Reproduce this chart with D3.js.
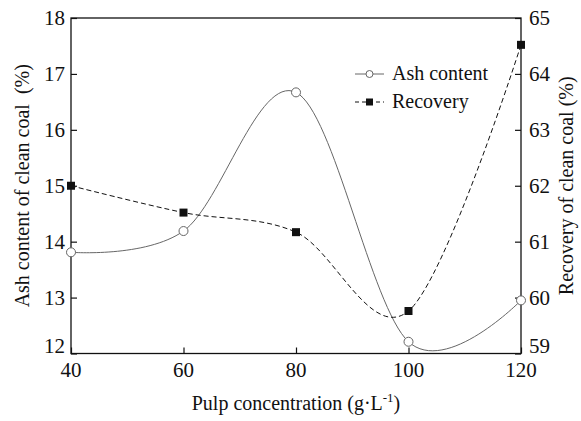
<!DOCTYPE html>
<html><head><meta charset="utf-8">
<script src="https://cdn.jsdelivr.net/npm/d3@7"></script>
<style>body{margin:0;background:#fff} svg{display:block}</style>
</head><body><svg id="c" width="581" height="421"></svg>
<script>
const concentration = [40, 60, 80, 100, 120];
const ashContent = [13.81, 14.19, 16.67, 12.21, 12.95];
const recovery = [62.0, 61.52, 61.17, 59.76, 64.52];
const xTicks = [40, 60, 80, 100, 120];
const yLeftTicks = [12, 13, 14, 15, 16, 17, 18];
const yRightTicks = [59, 60, 61, 62, 63, 64, 65];

const FONT = "Times New Roman";
const svg = d3.select("#c");
const L = 71, R = 521, T = 18, B = 353.5;
const x = d3.scaleLinear().domain([40, 120]).range([L, R]);
const yL = d3.scaleLinear().domain([12, 18]).range([B, T]);
const yR = d3.scaleLinear().domain([59, 65]).range([B, T]);
const ink = "#111";

svg.append("rect").attr("x", L).attr("y", T).attr("width", R - L).attr("height", B - T)
  .attr("fill", "none").attr("stroke", ink).attr("stroke-width", 1.3);

const fs = 21;
const gx = svg.append("g").attr("transform", `translate(0,${B})`)
  .call(d3.axisTop(x).tickValues(xTicks).tickSize(6).tickFormat(""));
gx.select(".domain").remove();
gx.selectAll("line").attr("stroke", ink).attr("stroke-width", 1.2);

const gl = svg.append("g").attr("transform", `translate(${L},0)`)
  .call(d3.axisRight(yL).tickValues(yLeftTicks).tickSize(6).tickFormat(""));
gl.select(".domain").remove();
gl.selectAll("line").attr("stroke", ink).attr("stroke-width", 1.2);

const gr = svg.append("g").attr("transform", `translate(${R},0)`)
  .call(d3.axisLeft(yR).tickValues(yRightTicks).tickSize(6).tickFormat(""));
gr.select(".domain").remove();
gr.selectAll("line").attr("stroke", ink).attr("stroke-width", 1.2);

const labels = svg.append("g").attr("fill", ink);
labels.selectAll(".xl").data(xTicks).enter().append("text").attr("class", "xl").attr("font-family", FONT)
  .attr("x", d => x(d)).attr("y", B + 23).attr("text-anchor", "middle").attr("font-size", fs).text(d => d);
labels.selectAll(".yl").data(yLeftTicks).enter().append("text").attr("class", "yl").attr("font-family", FONT)
  .attr("x", L - 6).attr("y", d => d === 12 ? yL(d) - 1 : yL(d) + 7).attr("text-anchor", "end").attr("font-size", fs).text(d => d);
labels.selectAll(".yr").data(yRightTicks).enter().append("text").attr("class", "yr").attr("font-family", FONT)
  .attr("x", R + 8).attr("y", d => d === 59 ? yR(d) - 1 : yR(d) + 7).attr("text-anchor", "start").attr("font-size", fs).text(d => d);

const tx = labels.append("text").attr("font-family", FONT).attr("x", 296).attr("y", 410).attr("text-anchor", "middle").attr("font-size", 20);
tx.append("tspan").text("Pulp concentration (g·L");
tx.append("tspan").attr("dy", -8).attr("font-size", 13).text("-1");
tx.append("tspan").attr("dy", 8).text(")");
labels.append("text").attr("font-family", FONT).attr("transform", `translate(29,${(T + B) / 2}) rotate(-90)`).attr("text-anchor", "middle")
  .attr("font-size", 20).style("white-space", "pre").text("Ash content of clean coal  (%)");
labels.append("text").attr("font-family", FONT).attr("transform", `translate(573,${(T + B) / 2}) rotate(-90)`).attr("text-anchor", "middle")
  .attr("font-size", 20).text("Recovery of clean coal (%)");

const ashData = concentration.map((c, i) => [c, ashContent[i]]);
const recData = concentration.map((c, i) => [c, recovery[i]]);
svg.append("clipPath").attr("id", "cp").append("rect").attr("x", L).attr("y", T).attr("width", R - L).attr("height", B - T);
svg.append("path").datum(ashData).attr("clip-path", "url(#cp)")
  .attr("d", d3.line().x(d => x(d[0])).y(d => yL(d[1])).curve(d3.curveCatmullRom.alpha(0)))
  .attr("fill", "none").attr("stroke", "#666").attr("stroke-width", 1);
svg.append("path").datum(recData).attr("clip-path", "url(#cp)")
  .attr("d", d3.line().x(d => x(d[0])).y(d => yR(d[1])).curve(d3.curveCatmullRom.alpha(0)))
  .attr("fill", "none").attr("stroke", ink).attr("stroke-width", 1).attr("stroke-dasharray", "5,3");

svg.selectAll(".ap").data(ashData).enter().append("circle").attr("class", "ap")
  .attr("cx", d => x(d[0])).attr("cy", d => yL(d[1])).attr("r", 4.5)
  .attr("fill", "#fff").attr("stroke", "#666").attr("stroke-width", 1);
svg.selectAll(".rp").data(recData).enter().append("rect").attr("class", "rp")
  .attr("x", d => x(d[0]) - 4).attr("y", d => yR(d[1]) - 4).attr("width", 8).attr("height", 8).attr("fill", ink);

const lg = svg.append("g");
lg.append("line").attr("x1", 355).attr("x2", 384).attr("y1", 74).attr("y2", 74).attr("stroke", "#666").attr("stroke-width", 1);
lg.append("circle").attr("cx", 369.5).attr("cy", 74).attr("r", 3.5).attr("fill", "#fff").attr("stroke", "#666");
lg.append("text").attr("font-family", FONT).attr("x", 392).attr("y", 80).attr("font-size", 20).attr("fill", ink).text("Ash content");
lg.append("line").attr("x1", 355).attr("x2", 384).attr("y1", 102).attr("y2", 102).attr("stroke", ink).attr("stroke-dasharray", "4,3");
lg.append("rect").attr("x", 366).attr("y", 98.5).attr("width", 7).attr("height", 7).attr("fill", ink);
lg.append("text").attr("font-family", FONT).attr("x", 392).attr("y", 108).attr("font-size", 20).attr("fill", ink).text("Recovery");
</script></body></html>
